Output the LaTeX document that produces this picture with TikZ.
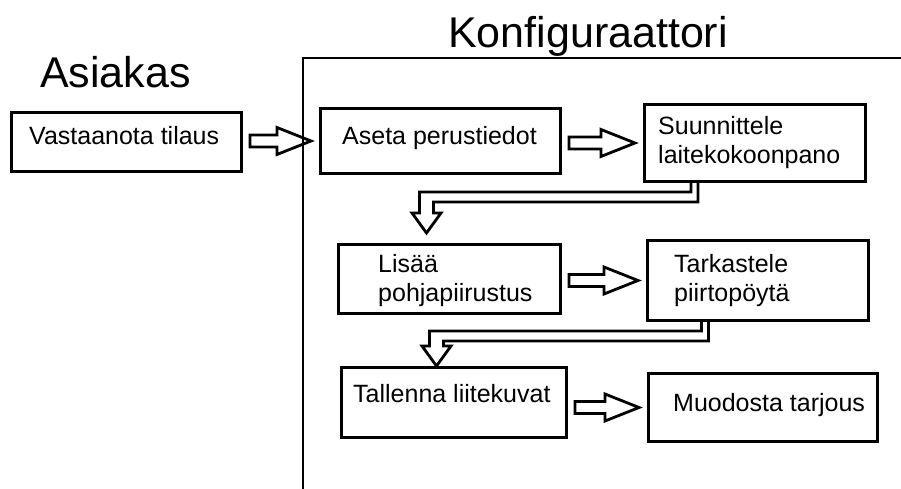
\documentclass[tikz,border=0pt]{standalone}
\usepackage{fontspec}
\setmainfont{Liberation Sans}
\usetikzlibrary{calc}

\begin{document}
\begin{tikzpicture}[x=1pt,y=1pt,
    box/.style={draw,line width=3.3pt,inner sep=0pt},
    txt/.style={anchor=base west,inner sep=0pt,align=left,font=\fontsize{25}{29}\selectfont},
    title/.style={anchor=base west,inner sep=0pt,font=\fontsize{43}{50}\selectfont},
    hollow/.style={draw,line width=2.8pt,line join=miter}]
  \useasboundingbox (0,0) rectangle (901,489);
  % frame of the configurator
  \draw[line width=1.5pt] (303,0) -- (303,431) -- (901,431);
  \node[title] (asiakas) at (40,401) {Asiakas};
  \node[title] (konf) at (448,441) {Konfiguraattori};
  % boxes
  \node[box,minimum width=229.7pt,minimum height=58.7pt] (vast) at (126.5,347) {};
  \node[box,minimum width=239.7pt,minimum height=64.7pt] (aseta) at (440.5,348) {};
  \node[box,minimum width=220.7pt,minimum height=76.7pt] (suun) at (755,346) {};
  \node[box,minimum width=221.7pt,minimum height=68.7pt] (lisaa) at (449.5,210) {};
  \node[box,minimum width=220.7pt,minimum height=79.7pt] (tark) at (758,208.5) {};
  \node[box,minimum width=224.7pt,minimum height=69.7pt] (tall) at (454,86.5) {};
  \node[box,minimum width=228.7pt,minimum height=67.7pt] (muod) at (763,81.5) {};
  % texts (two-line ones sit on their last line)
  \node[txt] (vastt) at (29,344) {Vastaanota tilaus};
  \node[txt] (asetat) at (342,344) {Aseta perustiedot};
  \node[txt] (suunt) at (658,325) {Suunnittele\\laitekokoonpano};
  \node[txt] (lisaat) at (378,187) {Lisää\\pohjapiirustus};
  \node[txt] (tarkt) at (674,187) {Tarkastele\\piirtopöytä};
  \node[txt] (tallt) at (353,86) {Tallenna liitekuvat};
  \node[txt] (muodt) at (673,77) {Muodosta tarjous};
  % straight arrows
  \foreach \a/\b in {vast/aseta,aseta/suun,lisaa/tark,tall/muod}
    \draw[hollow] let \p1=(\a.east), \p2=(\b.west) in
      (\x1+7pt,\y2-6pt) -- (\x2-42pt,\y2-6pt) -- (\x2-42pt,\y2-13.5pt) -- (\x2-8pt,\y2)
      -- (\x2-42pt,\y2+13.5pt) -- (\x2-42pt,\y2+6pt) -- (\x1+7pt,\y2+6pt) -- cycle;
  % elbow arrows
  \foreach \a/\dx/\b/\ex/\ey in {suun/-60.5/lisaa/-23/10,tark/-53/tall/-17.5/0}
    \draw[hollow] let \p1=($(\a.south)+(\dx,0)$), \p2=($(\b.north)+(\ex,\ey)$) in
      (\x1+3.5pt,\y1) |- (\x2+7pt,\y1-19pt) -- (\x2+7pt,\y2+20pt) -- (\x2+14.5pt,\y2+20pt)
      -- (\x2,\y2) -- (\x2-14.5pt,\y2+20pt) -- (\x2-7pt,\y2+20pt) |- (\x1-3.5pt,\y1-9pt)
      -- (\x1-3.5pt,\y1);
\end{tikzpicture}
\end{document}
